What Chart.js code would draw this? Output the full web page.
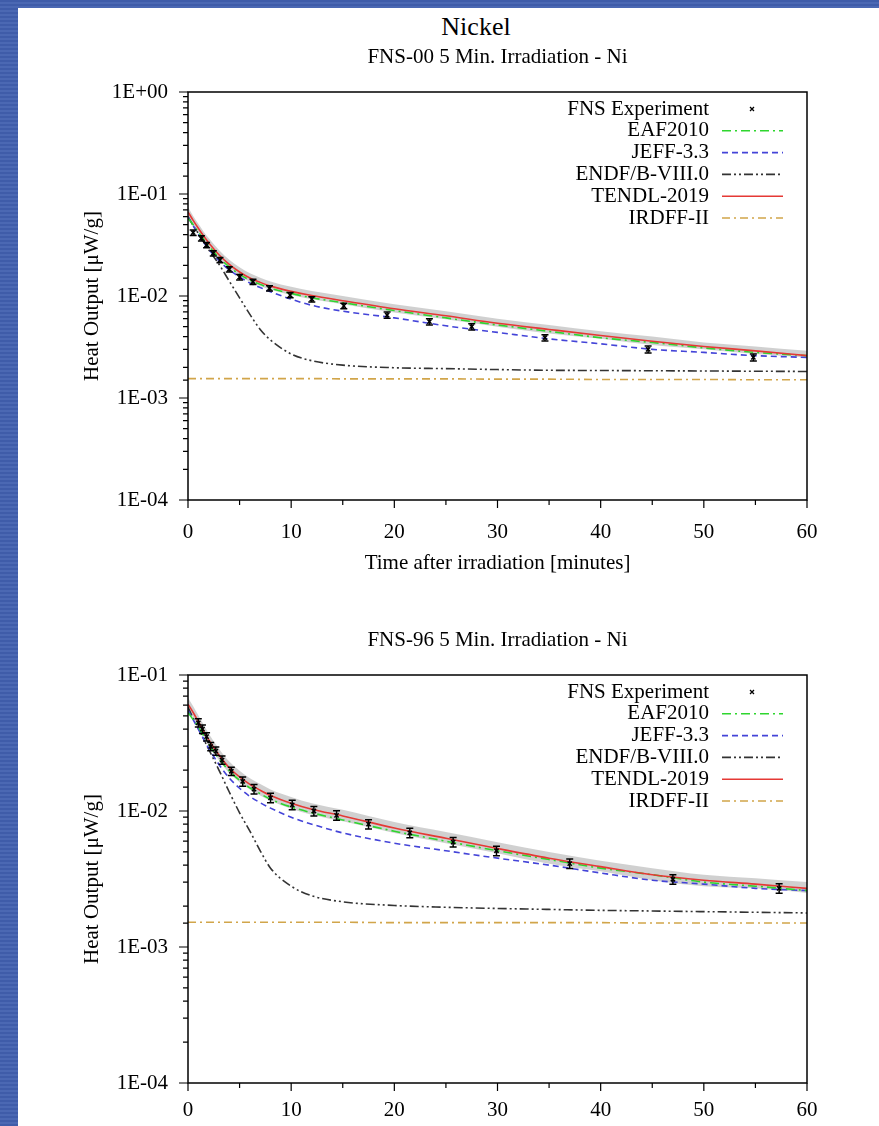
<!DOCTYPE html>
<html>
<head>
<meta charset="utf-8">
<script src="https://cdn.jsdelivr.net/npm/chart.js@4.4.1/dist/chart.umd.min.js"></script>
<style>
html, body { margin: 0; padding: 0; }
body {
    width: 879px; height: 1126px; overflow: hidden; position: relative;
    background: repeating-linear-gradient(180deg, #3f5ca9 0px, #3f5ca9 2px, #4b68b3 2px, #4b68b3 4px);
}
#page { position: absolute; left: 18px; top: 8px; width: 861px; height: 1118px; background: #fff; }
#head {
    position: absolute; left: 458px; top: 6px; transform: translateX(-50%);
    font: 26px 'Liberation Serif', 'Times New Roman', serif; color: #000; line-height: 1;
}
canvas { position: absolute; left: 0; }
#chart1 { top: 32px; }
#chart2 { top: 615px; }
</style>
</head>
<body>
<div id="page">
    <div id="head">Nickel</div>
    <canvas id="chart1" width="861" height="545"></canvas>
    <canvas id="chart2" width="861" height="503"></canvas>
</div>
<script>
// time grid of the calculated curves [minutes]
const times = [0, 0.5, 1, 1.5, 2, 3, 4, 5, 6, 7, 8, 10, 12, 15, 20, 25, 30, 35, 40, 45, 50, 55, 60];

// ---- FNS-00 ----
const exp00Time = [0.5, 1.3, 1.8, 2.45, 3.1, 4.0, 5.0, 6.3, 7.9, 9.9, 12.0, 15.1, 19.3, 23.4, 27.5, 34.6, 44.6, 54.8];
const exp00Heat = [0.0418, 0.0368, 0.0316, 0.0262, 0.0225, 0.0183, 0.0153, 0.0138, 0.0119, 0.0102, 0.0093, 0.0080, 0.0065, 0.0056, 0.0050, 0.0039, 0.0030, 0.0025];
const exp00Err  = [0.06, 0.06, 0.06, 0.06, 0.06, 0.06, 0.06, 0.06, 0.06, 0.06, 0.06, 0.06, 0.07, 0.07, 0.07, 0.07, 0.08, 0.08];
const eaf00   = [0.058, 0.050, 0.0425, 0.0362, 0.031, 0.0238, 0.0193, 0.0163, 0.0143, 0.0130, 0.0119, 0.0106, 0.0096, 0.0086, 0.0072, 0.0061, 0.0052, 0.0045, 0.0039, 0.0035, 0.0031, 0.0028, 0.0026];
const jeff00  = [0.0595, 0.049, 0.0405, 0.034, 0.0288, 0.0222, 0.0180, 0.0154, 0.0134, 0.0121, 0.0110, 0.0093, 0.0081, 0.0071, 0.0061, 0.0051, 0.0044, 0.0038, 0.0034, 0.0030, 0.0028, 0.0026, 0.0025];
const endf00  = [0.060, 0.049, 0.041, 0.034, 0.0285, 0.0205, 0.0140, 0.0096, 0.0066, 0.0047, 0.0037, 0.0027, 0.00232, 0.00210, 0.00198, 0.00194, 0.00190, 0.00187, 0.00186, 0.00185, 0.00184, 0.00183, 0.00182];
const tendl00 = [0.0667, 0.0551, 0.0461, 0.0389, 0.0333, 0.0254, 0.0204, 0.0172, 0.0150, 0.0136, 0.0125, 0.0111, 0.0101, 0.0090, 0.0075, 0.0064, 0.0054, 0.0047, 0.0041, 0.0036, 0.0032, 0.0029, 0.0026];
const tendl00Hi = [0.074, 0.061, 0.051, 0.043, 0.0370, 0.0283, 0.0227, 0.0191, 0.0167, 0.0151, 0.0139, 0.0123, 0.0112, 0.0100, 0.0083, 0.0071, 0.0060, 0.0052, 0.0045, 0.0040, 0.0035, 0.0032, 0.0029];
const tendl00Lo = [0.061, 0.0505, 0.0423, 0.0357, 0.0306, 0.0234, 0.0188, 0.0158, 0.0138, 0.0125, 0.0115, 0.0102, 0.0093, 0.0083, 0.0069, 0.0059, 0.0050, 0.0043, 0.0038, 0.0033, 0.0030, 0.0027, 0.0025];
const irdff00 = [0.00155, 0.00155, 0.00155, 0.00155, 0.00155, 0.00155, 0.00155, 0.00155, 0.00155, 0.00155, 0.00155, 0.00155, 0.00155, 0.00154, 0.00154, 0.00154, 0.00153, 0.00153, 0.00152, 0.00152, 0.00152, 0.00151, 0.00151];
const yTicks00  = [1, 0.1, 0.01, 0.001, 0.0001];
const yLabels00 = ['1E+00', '1E-01', '1E-02', '1E-03', '1E-04'];

// ---- FNS-96 ----
const exp96Time = [1.0, 1.4, 1.8, 2.2, 2.7, 3.3, 4.2, 5.3, 6.4, 8.0, 10.1, 12.2, 14.4, 17.5, 21.5, 25.7, 29.9, 37.0, 47.0, 57.3];
const exp96Heat = [0.0445, 0.0400, 0.0352, 0.0298, 0.0276, 0.0237, 0.0196, 0.0165, 0.0145, 0.0125, 0.0111, 0.0100, 0.0093, 0.0080, 0.0069, 0.0059, 0.0051, 0.0041, 0.00315, 0.0027];
const exp96Err  = [0.07, 0.07, 0.07, 0.07, 0.07, 0.07, 0.07, 0.08, 0.08, 0.08, 0.08, 0.08, 0.08, 0.08, 0.08, 0.08, 0.08, 0.08, 0.08, 0.08];
const eaf96   = [0.053, 0.047, 0.0415, 0.036, 0.031, 0.0243, 0.0197, 0.0168, 0.0148, 0.0134, 0.0122, 0.0107, 0.0097, 0.0086, 0.0071, 0.0060, 0.0051, 0.0044, 0.0038, 0.0034, 0.0030, 0.0028, 0.0026];
const jeff96  = [0.055, 0.047, 0.040, 0.034, 0.029, 0.0220, 0.0175, 0.0147, 0.0128, 0.0115, 0.0105, 0.0090, 0.0080, 0.0069, 0.0058, 0.0051, 0.0045, 0.0040, 0.0035, 0.0031, 0.0029, 0.0027, 0.0026];
const endf96  = [0.058, 0.048, 0.0405, 0.034, 0.0285, 0.0200, 0.0138, 0.0097, 0.0071, 0.0051, 0.0038, 0.0028, 0.00238, 0.00215, 0.00202, 0.00196, 0.00192, 0.00189, 0.00186, 0.00184, 0.00182, 0.00180, 0.00178];
const tendl96 = [0.061, 0.053, 0.0455, 0.039, 0.0335, 0.0258, 0.0208, 0.0178, 0.0157, 0.0142, 0.0130, 0.0114, 0.0103, 0.0092, 0.0075, 0.0063, 0.0053, 0.0045, 0.0039, 0.0034, 0.0031, 0.0029, 0.0027];
const tendl96Hi = [0.068, 0.059, 0.0505, 0.0433, 0.0372, 0.0287, 0.0231, 0.0198, 0.0174, 0.0158, 0.0144, 0.0127, 0.0114, 0.0102, 0.0083, 0.0070, 0.0059, 0.0050, 0.0043, 0.0038, 0.0034, 0.0032, 0.0030];
const tendl96Lo = [0.056, 0.0485, 0.0416, 0.0357, 0.0307, 0.0236, 0.0190, 0.0163, 0.0144, 0.0130, 0.0119, 0.0104, 0.0094, 0.0084, 0.0069, 0.0058, 0.0049, 0.0041, 0.0036, 0.0031, 0.0028, 0.0027, 0.0025];
const irdff96 = [0.00152, 0.00152, 0.00152, 0.00152, 0.00152, 0.00152, 0.00152, 0.00152, 0.00152, 0.00152, 0.00152, 0.00152, 0.00152, 0.00152, 0.00151, 0.00151, 0.00151, 0.00151, 0.00151, 0.00150, 0.00150, 0.00150, 0.00150];
const yTicks96  = [0.1, 0.01, 0.001, 0.0001];
const yLabels96 = ['1E-01', '1E-02', '1E-03', '1E-04'];

const FONT = "'Liberation Serif', 'Times New Roman', serif";
const INK = '#000';

function pts(xs, ys){
    return xs.map(function(x, i){ return {x: x, y: ys[i]}; });
}

function isDecade(v){
    const l = Math.log10(v);
    return Math.abs(l - Math.round(l)) < 1e-6;
}

// frame + outward ticks, gnuplot style
const frameTicks = {
    id: 'frameTicks',
    afterDraw(chart){
        const ctx = chart.ctx, a = chart.chartArea;
        const xs = chart.scales.x, ys = chart.scales.y;
        ctx.save();
        ctx.strokeStyle = INK;
        ctx.lineWidth = 1.5;
        ctx.strokeRect(a.left, a.top, a.right - a.left, a.bottom - a.top);
        ctx.lineWidth = 1.2;
        ctx.beginPath();
        ys.ticks.forEach(function(t){
            const py = ys.getPixelForValue(t.value);
            const len = isDecade(t.value) ? 9 : 5;
            ctx.moveTo(a.left - len, py);
            ctx.lineTo(a.left, py);
        });
        xs.ticks.forEach(function(t){
            const px = xs.getPixelForValue(t.value);
            const len = t.value % 10 === 0 ? 8 : 5;
            ctx.moveTo(px, a.bottom);
            ctx.lineTo(px, a.bottom + len);
        });
        ctx.stroke();
        // plot title, centred on the plot area
        ctx.fillStyle = INK;
        ctx.font = '21px ' + FONT;
        ctx.textAlign = 'center';
        ctx.textBaseline = 'middle';
        ctx.fillText(chart.options.plotTitle, (a.left + a.right) / 2, 17);
        ctx.restore();
    }
};

const errorBars = {
    id: 'errorBars',
    afterDatasetsDraw(chart){
        const ctx = chart.ctx;
        const xs = chart.scales.x, ys = chart.scales.y;
        chart.data.datasets.forEach(function(ds){
            if(!ds.errors) return;
            ctx.save();
            ctx.strokeStyle = INK;
            ctx.lineWidth = 1.5;
            ctx.beginPath();
            ds.data.forEach(function(p, j){
                const px = xs.getPixelForValue(p.x);
                const top = ys.getPixelForValue(p.y * (1 + ds.errors[j]));
                const bot = ys.getPixelForValue(p.y * (1 - ds.errors[j]));
                ctx.moveTo(px, top); ctx.lineTo(px, bot);
                ctx.moveTo(px - 3.5, top); ctx.lineTo(px + 3.5, top);
                ctx.moveTo(px - 3.5, bot); ctx.lineTo(px + 3.5, bot);
            });
            ctx.stroke();
            ctx.restore();
        });
    }
};

// key inside the plot: text right aligned, sample on the right
const sideLegend = {
    id: 'sideLegend',
    afterDraw(chart){
        const ctx = chart.ctx, a = chart.chartArea;
        let row = 0;
        ctx.save();
        ctx.font = '21px ' + FONT;
        ctx.textAlign = 'right';
        ctx.textBaseline = 'middle';
        chart.data.datasets.forEach(function(ds){
            if(!ds.legendText) return;
            const yy = a.top + 17 + row * 21.8;
            ctx.fillStyle = INK;
            ctx.fillText(ds.legendText, a.right - 98, yy);
            if(ds.showLine === false){
                ctx.strokeStyle = INK;
                ctx.lineWidth = 1.3;
                ctx.setLineDash([]);
                ctx.beginPath();
                ctx.moveTo(a.right - 57, yy - 2); ctx.lineTo(a.right - 53, yy + 2);
                ctx.moveTo(a.right - 57, yy + 2); ctx.lineTo(a.right - 53, yy - 2);
                ctx.stroke();
            } else {
                ctx.strokeStyle = ds.borderColor;
                ctx.lineWidth = ds.borderWidth;
                ctx.setLineDash(ds.borderDash || []);
                ctx.beginPath();
                ctx.moveTo(a.right - 85, yy);
                ctx.lineTo(a.right - 24, yy);
                ctx.stroke();
            }
            row++;
        });
        ctx.restore();
    }
};

function curve(label, ys, color, dash, order){
    return {
        legendText: label,
        data: pts(times, ys),
        borderColor: color,
        borderWidth: 1.6,
        borderDash: dash,
        pointRadius: 0,
        fill: false,
        cubicInterpolationMode: 'monotone',
        order: order
    };
}

function makeChart(id, c){
    const ctx = document.getElementById(id).getContext('2d');
    return new Chart(ctx, {
        type: 'line',
        data: {
            datasets: [
                {data: pts(times, c.hi), borderWidth: 0, pointRadius: 0, fill: '+1',
                 backgroundColor: 'rgba(150,150,150,0.45)', cubicInterpolationMode: 'monotone', order: 10},
                {data: pts(times, c.lo), borderWidth: 0, pointRadius: 0, fill: false,
                 cubicInterpolationMode: 'monotone', order: 10},
                {legendText: 'FNS Experiment', data: pts(c.expT, c.expY), errors: c.expE,
                 showLine: false, pointStyle: 'crossRot', pointRadius: 3,
                 borderColor: INK, borderWidth: 1.5, order: 0},
                curve('EAF2010', c.eaf, '#2ed62e', [9, 4, 2, 4], 2),
                curve('JEFF-3.3', c.jeff, '#4444d8', [6, 4], 3),
                curve('ENDF/B-VIII.0', c.endf, '#333333', [9, 3, 2, 3, 2, 3], 4),
                curve('TENDL-2019', c.tendl, '#e53935', [], 1),
                curve('IRDFF-II', c.irdff, '#d1a54a', [8, 4, 2, 4], 5)
            ]
        },
        options: {
            responsive: false,
            animation: false,
            plotTitle: c.title,
            layout: {padding: {left: 0, right: 72, top: 52, bottom: 0}},
            plugins: {
                legend: {display: false},
                tooltip: {enabled: false}
            },
            scales: {
                x: {
                    type: 'linear', min: 0, max: 60,
                    grid: {display: false}, border: {display: false},
                    ticks: {
                        stepSize: 5, autoSkip: false, maxRotation: 0, padding: c.xPad,
                        color: INK, font: {family: FONT, size: 21},
                        callback: function(v){ return v % 10 === 0 ? String(v) : ''; }
                    },
                    title: {
                        display: c.xTitle, text: 'Time after irradiation [minutes]',
                        color: INK, font: {family: FONT, size: 21},
                        padding: {top: 0, bottom: 9}
                    },
                    afterFit: function(s){ s.height = c.xHeight; }
                },
                y: {
                    type: 'logarithmic', min: 0.0001, max: c.yMax,
                    grid: {display: false}, border: {display: false},
                    ticks: {
                        autoSkip: false, padding: 12,
                        color: INK, font: {family: FONT, size: 21},
                        callback: function(v){
                            for(var i = 0; i < c.yTicks.length; i++){
                                if(Math.abs(v / c.yTicks[i] - 1) < 1e-6) return c.yLabels[i];
                            }
                            return '';
                        }
                    },
                    title: {
                        display: true, text: 'Heat Output [μW/g]',
                        color: INK, font: {family: FONT, size: 21},
                        padding: {top: 62, bottom: 0}
                    },
                    afterFit: function(s){ s.width = 170; }
                }
            }
        },
        plugins: [errorBars, sideLegend, frameTicks]
    });
}

makeChart('chart1', {
    title: 'FNS-00 5 Min. Irradiation - Ni',
    expT: exp00Time, expY: exp00Heat, expE: exp00Err,
    eaf: eaf00, jeff: jeff00, endf: endf00, tendl: tendl00, irdff: irdff00,
    hi: tendl00Hi, lo: tendl00Lo,
    yMax: 1, yTicks: yTicks00, yLabels: yLabels00,
    xTitle: true, xHeight: 85, xPad: 12
});

makeChart('chart2', {
    title: 'FNS-96 5 Min. Irradiation - Ni',
    expT: exp96Time, expY: exp96Heat, expE: exp96Err,
    eaf: eaf96, jeff: jeff96, endf: endf96, tendl: tendl96, irdff: irdff96,
    hi: tendl96Hi, lo: tendl96Lo,
    yMax: 0.1, yTicks: yTicks96, yLabels: yLabels96,
    xTitle: false, xHeight: 43, xPad: 7
});
</script>
</body>
</html>
